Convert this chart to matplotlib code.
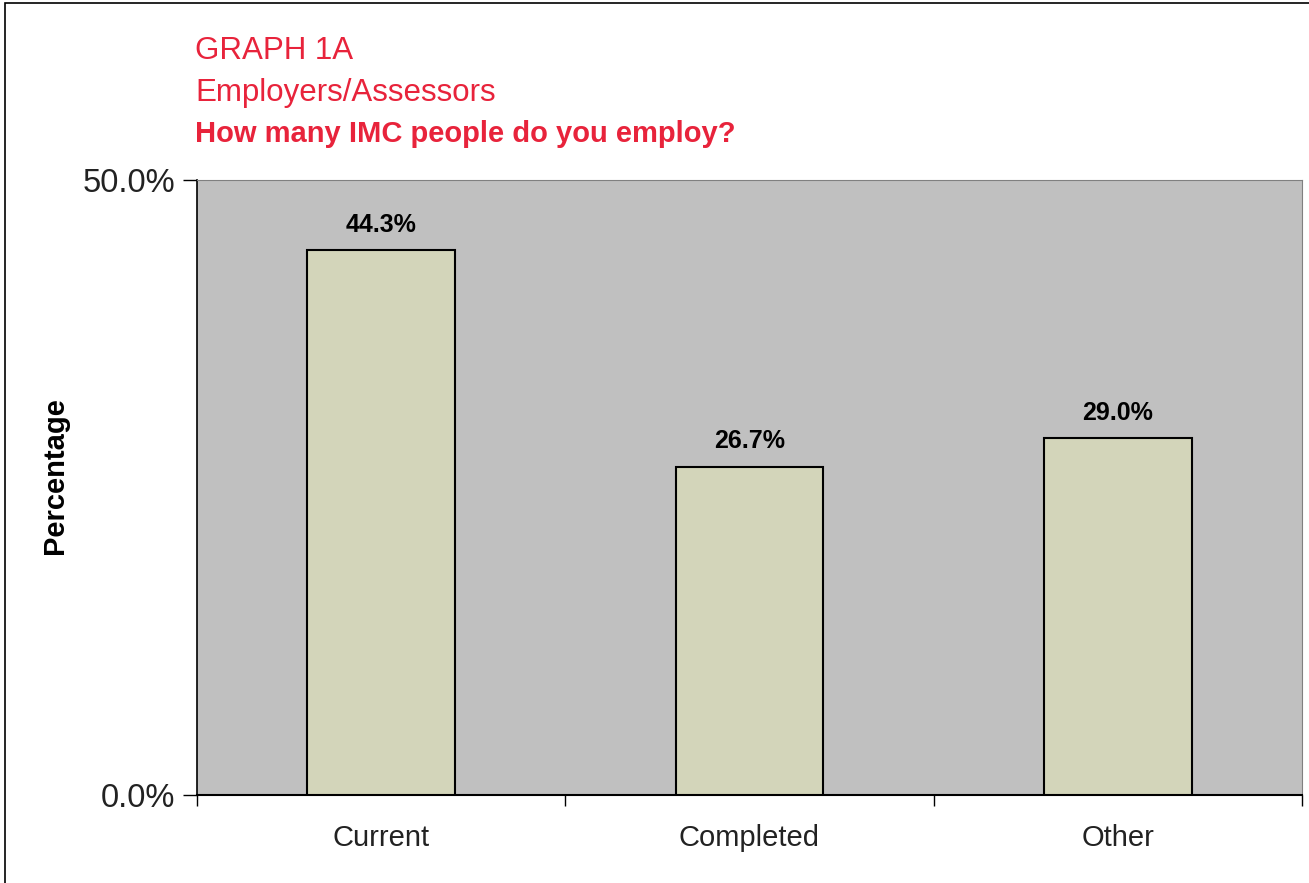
import matplotlib.pyplot as plt
from matplotlib.patches import Rectangle

categories = ["Current", "Completed", "Other"]
values = [44.3, 26.7, 29.0]

plt.rcParams['font.family'] = ['Liberation Sans', 'DejaVu Sans']
red = '#E8233B'

fig = plt.figure(figsize=(13.09, 8.83), dpi=100)
ax = fig.add_axes([197 / 1309, 1 - 795 / 883, 1105 / 1309, 615 / 883])

x = range(len(categories))
ax.bar(x, values, width=0.4, color='#D3D5BA', edgecolor='black', linewidth=1.5, zorder=3)
for i, v in zip(x, values):
    ax.text(i, v + 1.1, f"{v:.1f}%", ha='center', va='bottom', fontsize=18, fontweight='bold')

ax.set_facecolor('#C0C0C0')
ax.set_xlim(-0.5, len(categories) - 0.5)
ax.set_ylim(0, 50)
ax.set_yticks([0, 50])
ax.set_yticklabels(["0.0%", "50.0%"], fontsize=23.5, color='#222222')
ax.set_xticks([i + 0.5 for i in range(-1, len(categories))], minor=False)
ax.set_xticklabels([])
ax.set_xticks(list(x), minor=True)
ax.set_xticklabels(categories, minor=True, fontsize=21, color='#222222')
ax.tick_params(axis='x', which='minor', length=0, pad=21)
ax.tick_params(axis='x', which='major', length=8, width=1, direction='out')
ax.tick_params(axis='y', length=10, width=1, direction='out', pad=6)
ax.spines['left'].set_linewidth(1.2)
ax.spines['bottom'].set_linewidth(1.5)
ax.spines['top'].set_color('#808080')
ax.spines['right'].set_color('#808080')

fig.text(55 / 1309, 1 - 476 / 883, "Percentage", rotation=90, ha='center', va='center',
         fontsize=21, fontweight='bold')

fig.text(195 / 1309, 1 - 51 / 883, "GRAPH 1A", color=red, fontsize=22.5, va='center')
fig.text(195 / 1309, 1 - 93 / 883, "Employers/Assessors", color=red, fontsize=22.5, va='center')
fig.text(195 / 1309, 1 - 134 / 883, "How many IMC people do you employ?", color=red,
         fontsize=21, fontweight='bold', va='center')

# outer frame around the whole chart
fig.patches.append(Rectangle((5 / 1309, -0.01), 1.02, 1 - 3 / 883 + 0.01, transform=fig.transFigure,
                             fill=False, edgecolor='black', linewidth=1.2))

fig.savefig("out.png", dpi=100)
